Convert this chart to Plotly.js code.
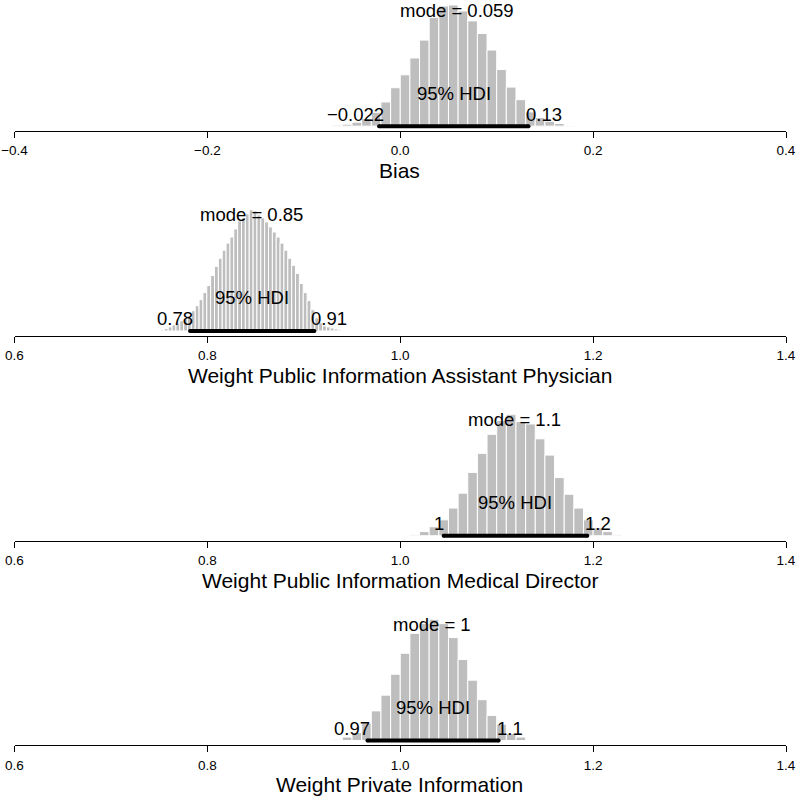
<!DOCTYPE html>
<html><head><meta charset="utf-8">
<script src="https://cdn.plot.ly/plotly-3.0.1.min.js"></script>
<style>html,body{margin:0;padding:0;background:#fff}</style>
</head><body><div id="chart" style="width:796px;height:800px"></div>
<script>
// ---- data ----
const panelTitles = ["Bias", "Weight Public Information Assistant Physician", "Weight Public Information Medical Director", "Weight Private Information"];
const binStart = [-0.07, 0.7514, 1.00, 0.93];
const binWidth = [0.01, 0.004, 0.01, 0.01];
const biasCounts = [3, 6, 12, 23, 42, 73, 116, 155, 206, 260, 328, 363, 366, 348, 318, 280, 230, 171, 118, 80, 43, 26, 15, 8, 2];
const assistantCounts = [1, 2.5, 4, 6, 8, 10, 12, 15, 20, 25, 31, 38, 45, 55, 64, 72, 80, 87, 93, 101, 109, 112, 116, 120, 119, 115, 112, 108, 103, 98, 93, 87, 80, 72, 65, 57, 47, 38, 30, 21, 13, 8, 5, 4, 3, 2, 1, 0.7];
const directorCounts = [1, 3, 12, 26, 46, 80, 123, 183, 238, 293, 333, 350, 330, 323, 280, 233, 168, 120, 80, 46, 23, 12, 3, 1];
const privateCounts = [2, 10, 23, 50, 85, 130, 190, 250, 307, 335, 347, 335, 295, 232, 173, 117, 72, 47, 20, 10, 3];
const modes = [0.059, 0.846, 1.118, 1.033];
const modeLabels = ["0.059", "0.85", "1.1", "1"];
const hdiLow = [-0.022, 0.782, 1.045, 0.966];
const hdiHigh = [0.133, 0.911, 1.194, 1.102];
const hdiLowLabels = ["\u22120.022", "0.78", "1", "0.97"];
const hdiHighLabels = ["0.13", "0.91", "1.2", "1.1"];
const biasTicks = [-0.4, -0.2, 0.0, 0.2, 0.4];
const weightTicks = [0.6, 0.8, 1.0, 1.2, 1.4];
const credMassLabel = "95% HDI";

// ---- drawing ----
const countsAll = [biasCounts, assistantCounts, directorCounts, privateCounts];
const ticksAll = [biasTicks, weightTicks, weightTicks, weightTicks];
const FONT = "Liberation Sans, Arial, Helvetica, sans-serif";
const W = 796, H = 800;
const axisPx = [131, 335.8, 540.6, 745.4];
const plotH = 126;
const xDom = [14.5 / W, 786 / W];

const traces = [];
const layout = {
  width: W, height: H,
  margin: {l: 0, r: 0, t: 0, b: 0},
  paper_bgcolor: "#ffffff", plot_bgcolor: "rgba(0,0,0,0)",
  showlegend: false,
  font: {family: FONT, color: "#000"},
  annotations: []
};

countsAll.forEach((counts, k) => {
  const n = k + 1;
  const xa = "x" + (n === 1 ? "" : n), ya = "y" + (n === 1 ? "" : n);
  const xKey = "xaxis" + (n === 1 ? "" : n), yKey = "yaxis" + (n === 1 ? "" : n);
  const centers = counts.map((_, i) => binStart[k] + binWidth[k] * (i + 0.5));
  const M = Math.max(...counts);
  traces.push({
    type: "bar", x: centers, y: counts, width: binWidth[k],
    xaxis: xa, yaxis: ya,
    marker: {color: "#BEBEBE", line: {color: "#ffffff", width: 1}},
    hoverinfo: "skip"
  });
  traces.push({
    type: "scatter", mode: "lines+markers", x: [hdiLow[k], hdiHigh[k]], y: [0, 0],
    xaxis: xa, yaxis: ya,
    line: {color: "#000", width: 4}, marker: {color: "#000", size: 4},
    hoverinfo: "skip", cliponaxis: false
  });
  const t = ticksAll[k];
  layout[xKey] = {
    domain: xDom, range: [t[0], t[t.length - 1]], anchor: ya,
    showline: true, linecolor: "#000", linewidth: 1,
    ticks: "outside", ticklen: 6, tickcolor: "#000", tickwidth: 1,
    tickvals: t, tickformat: ".1f",
    tickfont: {family: FONT, size: 13.5, color: "#000"},
    ticklabelstandoff: 1,
    showgrid: false, zeroline: false, fixedrange: true
  };
  layout[yKey] = {
    domain: [(H - axisPx[k]) / H, (H - axisPx[k] + plotH) / H],
    range: [-0.04 * M, M], anchor: xa,
    visible: false, showgrid: false, zeroline: false, fixedrange: true
  };
  const txtFont = {family: FONT, size: 18.5, color: "#000"};
  layout.annotations.push(
    {xref: xa, yref: ya, x: modes[k], y: 0, yshift: 116, yanchor: "middle", xanchor: "center",
     text: "mode = " + modeLabels[k], showarrow: false, font: txtFont},
    {xref: xa, yref: ya, x: (hdiLow[k] + hdiHigh[k]) / 2, y: 0, yshift: 33, yanchor: "middle", xanchor: "center",
     text: credMassLabel, showarrow: false, font: txtFont},
    {xref: xa, yref: ya, x: hdiLow[k], y: 0, yshift: 12, yanchor: "middle", xanchor: "right",
     xshift: Math.round(hdiLowLabels[k].length * 1.0) + 1,
     text: hdiLowLabels[k], showarrow: false, font: txtFont},
    {xref: xa, yref: ya, x: hdiHigh[k], y: 0, yshift: 12, yanchor: "middle", xanchor: "left",
     xshift: -Math.round(hdiHighLabels[k].length * 1.0) - 1,
     text: hdiHighLabels[k], showarrow: false, font: txtFont},
    {xref: "paper", yref: "paper", x: 400 / W, y: (H - axisPx[k] - 39.5) / H,
     xanchor: "center", yanchor: "middle", text: panelTitles[k], showarrow: false,
     font: {family: FONT, size: 21, color: "#000"}}
  );
});

Plotly.newPlot("chart", traces, layout, {staticPlot: true, displayModeBar: false});
</script>
</body></html>
